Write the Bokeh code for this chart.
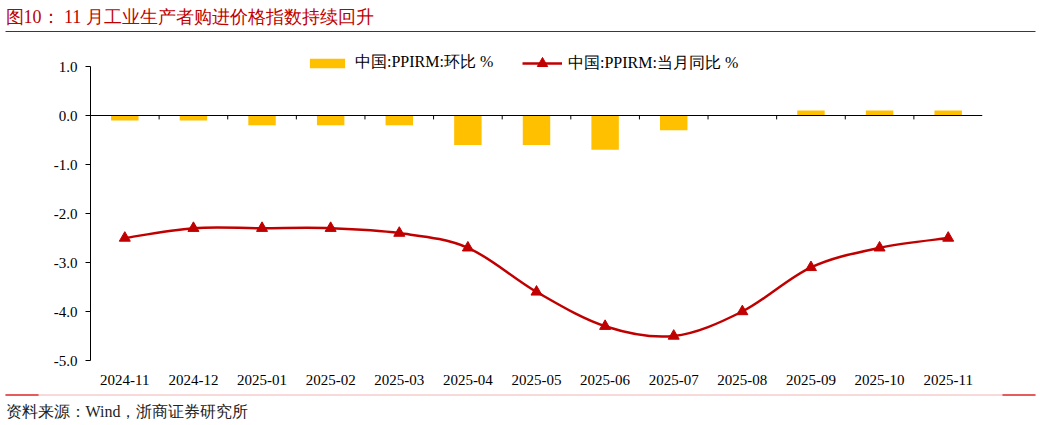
from bokeh.plotting import figure
from bokeh.models import Range1d, FixedTicker, Span, Label, Legend, LegendItem
from bokeh.layouts import column, row
from bokeh.embed import file_html
from bokeh.resources import INLINE
import numpy as np

categories = ["2024-11", "2024-12", "2025-01", "2025-02", "2025-03", "2025-04", "2025-05",
              "2025-06", "2025-07", "2025-08", "2025-09", "2025-10", "2025-11"]
mom = [-0.1, -0.1, -0.2, -0.2, -0.2, -0.6, -0.6, -0.7, -0.3, 0.0, 0.1, 0.1, 0.1]
yoy = [-2.5, -2.3, -2.3, -2.3, -2.4, -2.7, -3.6, -4.3, -4.5, -4.0, -3.1, -2.7, -2.5]
y_ticks = [1.0, 0.0, -1.0, -2.0, -3.0, -4.0, -5.0]

title_text = "图10：  11 月工业生产者购进价格指数持续回升"
source_text = "资料来源：Wind，浙商证券研究所"
name_mom = "中国:PPIRM:环比 %"
name_yoy = "中国:PPIRM:当月同比 %"

SERIF = "Liberation Serif"
RED = "#c00000"
GOLD = "#ffc000"
W = 1040

# ---- top strip (title) ----
top = figure(width=W, height=40, x_range=Range1d(0, W), y_range=Range1d(40, 0),
             x_axis_type=None, y_axis_type=None, toolbar_location=None,
             output_backend="svg", min_border=0, outline_line_color=None)
top.grid.visible = False
top.segment(x0=[5], y0=[31], x1=[1035], y1=[31], line_color=RED, line_width=1)
top.add_layout(Label(x=5, y=16, text=title_text, text_baseline="middle",
                     text_font_size="18px", text_color=RED, text_font=SERIF))

# ---- main chart ----
n = len(categories)
xs = list(range(n))
H = 350
b_top, b_bot = 6, 30
px_per_unit = 49.0
y_end = -5 + (H - b_top - b_bot) / px_per_unit
p = figure(width=W, height=H, x_range=Range1d(-0.5, n - 0.5), y_range=Range1d(-5, y_end),
           toolbar_location=None, output_backend="svg",
           min_border_left=90, min_border_right=58, min_border_top=b_top, min_border_bottom=b_bot,
           outline_line_color=None)
p.grid.visible = False

bars = p.vbar(x=xs, top=mom, bottom=0, width=0.4, fill_color=GOLD, line_color=None)

p.add_layout(Span(location=0, dimension="width", line_color="black", line_width=1))
bx = [i + 0.5 for i in range(n - 1)]
p.segment(x0=bx, y0=[0] * len(bx), x1=bx, y1=[-0.08] * len(bx), line_color="black", line_width=1)

# smooth curve through the points (Bezier, Excel-like smoothing)
yy = np.array(yoy, dtype=float)
xx = np.array(xs, dtype=float)
pad_y = np.concatenate([[yy[0]], yy, [yy[-1]]])
pad_x = np.concatenate([[xx[0]], xx, [xx[-1]]])
x0 = xx[:-1]; y0 = yy[:-1]; x1 = xx[1:]; y1 = yy[1:]
cx0 = x0 + (pad_x[2:-1] - pad_x[0:-3]) / 6.0
cy0 = y0 + (pad_y[2:-1] - pad_y[0:-3]) / 6.0
cx1 = x1 - (pad_x[3:] - pad_x[1:-2]) / 6.0
cy1 = y1 - (pad_y[3:] - pad_y[1:-2]) / 6.0
curve = p.bezier(x0=x0, y0=y0, x1=x1, y1=y1, cx0=cx0, cy0=cy0, cx1=cx1, cy1=cy1,
                 line_color=RED, line_width=2.5)
marks = p.scatter(x=xs, y=yoy, marker="triangle", size=11, fill_color=RED, line_color=RED)

# axes
p.yaxis.ticker = FixedTicker(ticks=y_ticks)
p.yaxis.bounds = (-5, 1)
p.yaxis.major_label_overrides = {t: f"{t:.1f}" for t in y_ticks}
p.yaxis.axis_line_color = "black"
p.yaxis.major_tick_line_color = "black"
p.yaxis.major_tick_out = 5
p.yaxis.major_tick_in = 0
p.yaxis.minor_tick_line_color = None
p.yaxis.major_label_standoff = 8
p.yaxis.major_label_text_font = SERIF
p.yaxis.major_label_text_font_size = "15px"
p.yaxis.major_label_text_color = "black"

p.xaxis.ticker = FixedTicker(ticks=xs)
p.xaxis.major_label_overrides = {i: c for i, c in enumerate(categories)}
p.xaxis.axis_line_color = None
p.xaxis.major_tick_line_color = None
p.xaxis.minor_tick_line_color = None
p.xaxis.major_label_standoff = 8
p.xaxis.major_label_text_font = SERIF
p.xaxis.major_label_text_font_size = "15px"
p.xaxis.major_label_text_color = "black"

common = dict(orientation="horizontal", label_standoff=6, padding=0, margin=0,
              border_line_color=None, background_fill_alpha=0,
              label_text_font=SERIF, label_text_font_size="16px", label_text_color="black")
leg1 = Legend(items=[LegendItem(label=name_mom, renderers=[bars])],
              location=(215, 287), glyph_width=44, glyph_height=12, **common)
leg2 = Legend(items=[LegendItem(label=name_yoy, renderers=[curve, marks])],
              location=(432, 284), glyph_width=40, glyph_height=26, **common)
p.add_layout(leg1)
p.add_layout(leg2)

# ---- bottom strip (source) ----
bot = figure(width=W, height=35, x_range=Range1d(0, W), y_range=Range1d(35, 0),
             x_axis_type=None, y_axis_type=None, toolbar_location=None,
             output_backend="svg", min_border=0, outline_line_color=None)
bot.grid.visible = False
bot.segment(x0=[5], y0=[4.5], x1=[1035], y1=[4.5], line_color="#f0b4b4", line_width=1)
bot.segment(x0=[5, 1002], y0=[4.5, 4.5], x1=[38, 1035], y1=[4.5, 4.5], line_color="#e03030", line_width=1.5)
bot.add_layout(Label(x=5, y=21, text=source_text, text_baseline="middle",
                     text_font_size="16px", text_color="#222222", text_font=SERIF))

layout = column(row(top), row(p), row(bot), spacing=0)
open("out.html", "w").write(file_html(layout, INLINE))
